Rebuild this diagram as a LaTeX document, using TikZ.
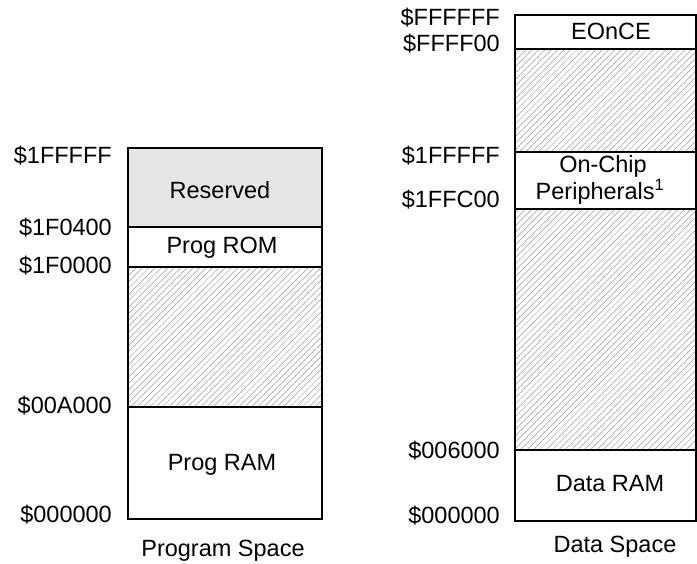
\documentclass[tikz,border=0pt]{standalone}
\usepackage{fontspec}
\setmainfont{Liberation Sans}
\usetikzlibrary{patterns.meta}
\begin{document}
\begin{tikzpicture}[x=1pt,y=-1pt,
  lbl/.style={font=\fontsize{23.5}{25}\selectfont, inner sep=0pt},
  addr/.style={lbl, anchor=east},
  blk/.style={draw=black, line width=1.6pt},
  hatch/.style={blk, pattern={Lines[angle=45,distance=4.5pt,line width=0.5pt]}, pattern color=gray!80}]
\useasboundingbox (0,0) rectangle (697,563);
% Program space
\draw[blk, fill=black!10] (128,148) rectangle (322,227);
\draw[blk] (128,227) rectangle (322,267);
\draw[hatch] (128,267) rectangle (322,407);
\draw[blk] (128,407) rectangle (322,519);
\node[lbl] (res) at (220,190) {Reserved};
\node[lbl] (rom) at (222,248) {Prog ROM};
\node[lbl] (ram) at (222,465) {Prog RAM};
\node[lbl] (ps) at (223,551) {Program Space};
\node[addr] (a1) at (112,156) {\$1FFFFF};
\node[addr] (a2) at (112,228) {\$1F0400};
\node[addr] (a3) at (112,266) {\$1F0000};
\node[addr] (a4) at (112,406) {\$00A000};
\node[addr] (a5) at (112,515) {\$000000};
% Data space
\draw[blk] (515,15) rectangle (696,49);
\draw[hatch] (515,49) rectangle (696,152);
\draw[blk] (515,152) rectangle (696,209);
\draw[hatch] (515,209) rectangle (696,450);
\draw[blk] (515,450) rectangle (696,521);
\node[lbl] (eon) at (611,31) {EOnCE};
\node[lbl] (oc1) at (603,166) {On-Chip};
\node[lbl] (oc2) at (600,192) {Peripherals\textsuperscript{1}};
\node[lbl] (dram) at (610,484) {Data RAM};
\node[lbl] (ds) at (615,547) {Data Space};
\node[addr] (b1) at (500,18) {\$FFFFFF};
\node[addr] (b2) at (500,44) {\$FFFF00};
\node[addr] (b3) at (500,156) {\$1FFFFF};
\node[addr] (b4) at (500,200) {\$1FFC00};
\node[addr] (b5) at (500,451) {\$006000};
\node[addr] (b6) at (500,516) {\$000000};
\end{tikzpicture}
\end{document}
